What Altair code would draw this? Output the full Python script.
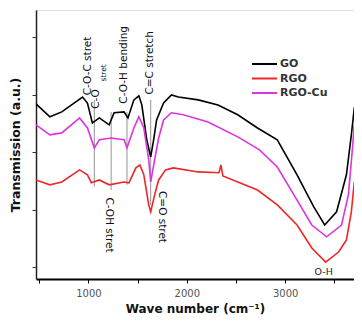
import altair as alt
import pandas as pd

# ---- data ----
go_wn = [467, 608, 729, 940, 990, 1040, 1111, 1211, 1261, 1362, 1402, 1462, 1513, 1543, 1593, 1633, 1663, 1693,
         1764, 1844, 1915, 2116, 2317, 2518, 2719, 2920, 3121, 3291, 3402, 3523, 3623, 3673, 3703, 3744]
go_t = [5.68, 5.23, 5.40, 5.92, 5.71, 5.02, 5.19, 4.95, 5.37, 5.40, 5.19, 5.82, 5.96, 5.64, 4.43, 3.83, 4.43, 5.12,
        5.71, 5.99, 5.92, 5.82, 5.64, 5.30, 4.84, 4.43, 3.21, 2.09, 1.46, 1.92, 3.21, 4.60, 5.54, 5.82]

rgo_wn = [467, 608, 729, 910, 990, 1030, 1111, 1211, 1362, 1412, 1482, 1523, 1563, 1613, 1633, 1673, 1714, 1784,
          1864, 2116, 2327, 2347, 2367, 2719, 2920, 3121, 3271, 3412, 3543, 3623, 3673, 3703, 3744]
rgo_t = [3.03, 2.86, 2.96, 3.38, 3.21, 2.93, 3.03, 2.86, 2.96, 2.93, 3.45, 3.55, 3.21, 2.16, 1.92, 2.51, 3.03, 3.38,
         3.45, 3.31, 3.28, 3.55, 3.17, 2.68, 2.16, 1.46, 0.66, 0.17, 0.52, 0.94, 1.92, 2.96, 3.17]

cu_wn = [467, 608, 729, 910, 990, 1060, 1111, 1231, 1362, 1392, 1462, 1513, 1563, 1613, 1633, 1673, 1714, 1764,
         1844, 1965, 2216, 2518, 2739, 2920, 3121, 3271, 3422, 3573, 3643, 3683, 3703, 3744]
cu_t = [4.95, 4.60, 4.67, 5.19, 4.84, 4.15, 4.43, 4.49, 4.43, 4.15, 4.84, 5.23, 4.84, 3.73, 2.96, 3.73, 4.49, 5.12,
        5.37, 5.30, 5.05, 4.53, 4.08, 3.48, 2.33, 1.46, 1.05, 1.46, 2.51, 4.08, 4.95, 5.19]

series_names = ["GO", "RGO", "RGO-Cu"]
series_colors = ["#000000", "#ee2626", "#dd33e0"]

# vertical marker lines
vl_wn = [1060, 1231, 1392, 1633]
vl_top = [5.82, 5.40, 5.40, 5.82]
vl_bot = [2.79, 2.68, 2.86, 2.16]

# annotations reading upward
up_text = ["C-O-C stret", "C-O", "stret", "C-O-H bending", "C=C stretch"]
up_wn = [1000, 1080, 1161, 1362, 1623]
up_t = [7.00, 5.85, 6.76, 7.04, 7.11]
up_size = [10.5, 10.5, 7.5, 10.5, 10.5]
# annotations reading downward
down_text = ["C-OH stret", "C=O stret"]
down_wn = [1211, 1744]
down_t = [1.46, 1.74]
# horizontal annotation
h_text = ["O-H"]
h_wn = [3392]
h_t = [-0.17]

x_ticks = [500, 1000, 1500, 2000, 2500, 3000, 3500]
y_ticks = [0, 1, 2, 3, 4, 5, 6, 7, 8]

# ---- tables ----
rows = []
for name, wn, t in [("GO", go_wn, go_t), ("RGO", rgo_wn, rgo_t), ("RGO-Cu", cu_wn, cu_t)]:
    for i, (a, b) in enumerate(zip(wn, t)):
        rows.append({"series": name, "wn": a, "t": b, "order": i})
df = pd.DataFrame(rows)

vdf = pd.DataFrame({"wn": vl_wn, "top": vl_top, "bot": vl_bot})
updf = pd.DataFrame({"text": up_text, "wn": up_wn, "t": up_t, "size": up_size})
downdf = pd.DataFrame({"text": down_text, "wn": down_wn, "t": down_t})
hdf = pd.DataFrame({"text": h_text, "wn": h_wn, "t": h_t})
legdf = pd.DataFrame({"series": series_names, "row": [0, 1, 2]})

FONT = "DejaVu Sans"
xscale = alt.Scale(domain=[467, 3700], nice=False, zero=False)
yscale = alt.Scale(domain=[-0.42, 8.95], nice=False, zero=False)
cscale = alt.Scale(domain=series_names, range=series_colors)

x_axis = alt.Axis(values=x_ticks, labelExpr="datum.value % 1000 == 0 ? datum.value : ''",
                  title="Wave number (cm⁻¹)", grid=False, tickSize=4, tickColor="#000",
                  domainColor="#000", domainWidth=2, labelFontSize=10, labelColor="#555",
                  labelFont=FONT, titleFont=FONT, titleFontSize=12, titleFontWeight="bold",
                  titleColor="#111", titlePadding=5, labelPadding=5)
y_axis = alt.Axis(values=y_ticks, labels=False, title="Transmission (a.u.)", grid=False,
                  tickSize=4, tickColor="#333", domainColor="#222", domainWidth=1.5,
                  titleFont=FONT, titleFontSize=12.5, titleFontWeight="bold", titleColor="#111",
                  titlePadding=9)

lines = alt.Chart(df).mark_line(strokeWidth=1.6, clip=True).encode(
    x=alt.X("wn:Q", scale=xscale, axis=x_axis),
    y=alt.Y("t:Q", scale=yscale, axis=y_axis),
    color=alt.Color("series:N", scale=cscale, legend=None),
    order="order:Q",
)

vrules = alt.Chart(vdf).mark_rule(color="#777", strokeWidth=0.8).encode(
    x=alt.X("wn:Q", scale=xscale), y=alt.Y("top:Q", scale=yscale), y2="bot:Q")

up = alt.Chart(updf).mark_text(angle=270, font=FONT, color="#111", align="center",
                               baseline="middle").encode(
    x=alt.X("wn:Q", scale=xscale), y=alt.Y("t:Q", scale=yscale), text="text:N",
    size=alt.Size("size:Q", scale=None, legend=None))

down = alt.Chart(downdf).mark_text(angle=90, font=FONT, fontSize=10.5, color="#111", align="center",
                                   baseline="middle").encode(
    x=alt.X("wn:Q", scale=xscale), y=alt.Y("t:Q", scale=yscale), text="text:N")

horiz = alt.Chart(hdf).mark_text(font=FONT, fontSize=9.5, color="#222", align="center",
                                 baseline="middle").encode(
    x=alt.X("wn:Q", scale=xscale), y=alt.Y("t:Q", scale=yscale), text="text:N")

# manual legend (line swatch + bold label)
leg_y = alt.Y("ly:Q", scale=None)
leg_lines = alt.Chart(legdf).transform_calculate(ly="54 + datum.row * 14.5").mark_rule(strokeWidth=2).encode(
    x=alt.value(216), x2=alt.value(241), y=leg_y,
    color=alt.Color("series:N", scale=cscale, legend=None))
leg_text = alt.Chart(legdf).transform_calculate(ly="54 + datum.row * 14.5").mark_text(
    align="left", baseline="middle", font=FONT, fontSize=11, fontWeight="bold", color="#333").encode(
    x=alt.value(244), y=leg_y, text="series:N")

chart = alt.layer(vrules, lines, up, down, horiz, leg_lines, leg_text).properties(
    width=318, height=269,
    autosize=alt.AutoSizeParams(type="none"),
    padding={"left": 28, "top": 2, "right": 0, "bottom": 37},
).configure_view(stroke="#000", strokeWidth=2).configure(background="white")

chart.save("out.html", embed_options={"renderer": "svg", "actions": False})
